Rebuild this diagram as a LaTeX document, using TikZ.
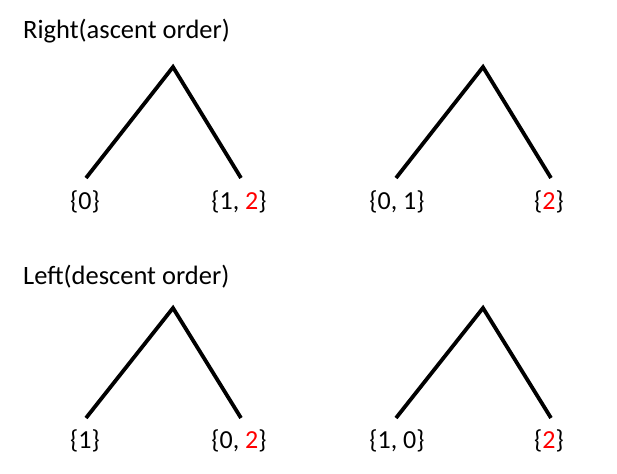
\documentclass[tikz,border=0pt]{standalone}
\usepackage{fontspec}
\setmainfont{Carlito}
\begin{document}
\begin{tikzpicture}[x=1pt,y=-1pt,
  edge/.style={line width=3.8pt},
  lbl/.style={inner sep=0pt, font=\fontsize{26}{31}\selectfont},
  ttl/.style={inner sep=0pt, anchor=west, font=\fontsize{26.5}{32}\selectfont}]
\useasboundingbox (0,0) rectangle (617,473);
\node[ttl] (t1) at (23,31) {Right(ascent order)};
\node[ttl] (t2) at (23,277) {Left(descent order)};
% tree 1
\coordinate (a1) at (173,67);
\coordinate (l1) at (86,178);
\coordinate (r1) at (241,178);
\draw[edge] (l1) -- (a1) -- (r1);
\node[lbl] (n1l) at (85,202) {\{0\}};
\node[lbl] (n1r) at (239,202) {\{1, \textcolor{red}{2}\}};
% tree 2
\coordinate (a2) at (483,67);
\coordinate (l2) at (396,178);
\coordinate (r2) at (551,178);
\draw[edge] (l2) -- (a2) -- (r2);
\node[lbl] (n2l) at (397,202) {\{0, 1\}};
\node[lbl] (n2r) at (549,202) {\{\textcolor{red}{2}\}};
% tree 3
\coordinate (a3) at (173,308);
\coordinate (l3) at (86,418);
\coordinate (r3) at (241,418);
\draw[edge] (l3) -- (a3) -- (r3);
\node[lbl] (n3l) at (85,441) {\{1\}};
\node[lbl] (n3r) at (239,441) {\{0, \textcolor{red}{2}\}};
% tree 4
\coordinate (a4) at (483,308);
\coordinate (l4) at (396,418);
\coordinate (r4) at (551,418);
\draw[edge] (l4) -- (a4) -- (r4);
\node[lbl] (n4l) at (397,441) {\{1, 0\}};
\node[lbl] (n4r) at (549,441) {\{\textcolor{red}{2}\}};
\end{tikzpicture}
\end{document}
